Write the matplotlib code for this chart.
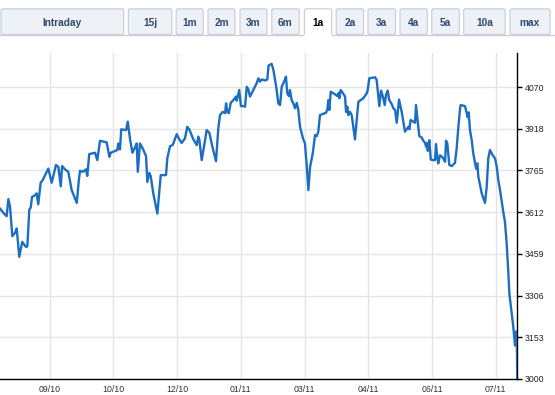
import matplotlib
matplotlib.use("Agg")
import matplotlib.pyplot as plt
from matplotlib.patches import FancyBboxPatch
from matplotlib.lines import Line2D

# index level, one year of closes (day offset from start, value)
DAYS = [
    0, 2.8, 4.7, 5.9, 7.1, 8.7, 10.6, 11.8, 13.6, 15.7,
    18.4, 19.3, 20.7, 21.7, 22.6, 24.7, 25.9, 27.0, 28.7, 30.1,
    34.1, 36.5, 39.5, 41.2, 42.9, 43.8, 45.9, 48.2, 50.6, 54.2,
    55.6, 56.5, 58.4, 60.7, 61.6, 63.0, 67.1, 68.7, 70.6, 75.3,
    77.2, 78.2, 82.8, 83.5, 84.7, 85.6, 89.0, 90.2, 91.8, 93.5,
    95.7, 96.5, 97.3, 98.8, 100.7, 103.1, 104.0, 105.4, 106.4, 108.2,
    111.1, 113.5, 117.2, 118.1, 120.0, 121.9, 124.8, 126.6, 128.3, 130.6,
    132.2, 133.6, 136.5, 138.9, 140.0, 140.7, 142.4, 144.0, 145.9, 147.8,
    150.2, 152.5, 154.1, 155.3, 157.2, 158.9, 159.6, 160.5, 161.5, 162.9,
    164.7, 166.6, 167.1, 168.9, 170.1, 172.3, 173.0, 174.2, 175.3, 176.5,
    178.8, 181.2, 182.4, 183.6, 184.8, 187.1, 188.7, 189.6, 191.8, 193.0,
    194.2, 194.9, 196.5, 197.7, 198.9, 201.2, 201.9, 202.8, 204.0, 204.7,
    205.9, 207.1, 208.3, 209.5, 210.6, 211.8, 214.1, 215.3, 216.5, 217.7,
    218.9, 220.8, 222.4, 223.6, 224.7, 225.9, 230.2, 231.1, 231.8, 232.5,
    233.5, 235.3, 237.2, 238.1, 239.1, 239.5, 240.5, 241.9, 243.6, 244.3,
    245.2, 245.9, 247.1, 248.3, 249.4, 250.6, 251.8, 253.0, 256.5, 258.9,
    259.6, 260.7, 264.8, 265.9, 267.8, 269.0, 270.2, 271.6, 272.5, 273.7,
    274.8, 276.5, 277.7, 278.9, 280.1, 281.7, 283.6, 285.9, 287.1, 288.3,
    289.0, 289.9, 291.8, 293.0, 293.7, 296.0, 297.7, 298.9, 300.1, 300.8,
    301.2, 302.0, 303.1, 304.1, 305.5, 307.1, 307.8, 308.7, 309.4, 310.6,
    312.5, 314.2, 314.9, 315.8, 317.2, 318.9, 321.2, 322.4, 323.6, 324.8,
    325.2, 328.3, 329.5, 330.2, 330.9, 331.8, 333.0, 334.1, 336.1, 337.0,
    337.7, 340.1, 342.4, 343.6, 344.7, 345.9, 347.8, 349.5, 350.7, 351.8,
    353.0, 354.2, 355.3, 356.5, 357.7, 358.9, 359.6, 361.3, 362.4, 363.6,
    364.3, 364.8, 365.2,
]
CLOSE = [
    3625, 3607, 3597, 3660, 3631, 3524, 3536, 3552, 3448, 3503,
    3484, 3487, 3622, 3629, 3668, 3674, 3681, 3641, 3720, 3729,
    3772, 3720, 3785, 3778, 3707, 3781, 3769, 3760, 3693, 3646,
    3727, 3764, 3760, 3769, 3745, 3825, 3830, 3803, 3874, 3868,
    3815, 3830, 3840, 3864, 3842, 3916, 3913, 3944, 3880, 3830,
    3854, 3864, 3760, 3864, 3846, 3818, 3723, 3756, 3744, 3681,
    3607, 3748, 3748, 3809, 3854, 3858, 3898, 3879, 3866, 3883,
    3925, 3916, 3879, 3858, 3889, 3879, 3803, 3852, 3913, 3903,
    3846, 3799, 3919, 3968, 3980, 3975, 4011, 3980, 3975, 4013,
    4023, 4036, 4021, 4060, 4001, 4001, 3999, 4072, 4063, 4036,
    4060, 4085, 4103, 4091, 4099, 4095, 4099, 4150, 4156, 4134,
    4097, 4075, 4011, 4005, 4072, 4099, 4109, 4048, 4038, 4060,
    4023, 4011, 3993, 4013, 3987, 3925, 3879, 3864, 3785, 3693,
    3778, 3828, 3895, 3891, 3907, 3968, 3977, 3989, 4023, 3987,
    4054, 4048, 4042, 4038, 4050, 4030, 4060, 4050, 4036, 3980,
    3999, 3968, 3980, 3968, 3925, 3879, 3950, 4017, 4030, 4048,
    4060, 4103, 4107, 4097, 4001, 4058, 4038, 4005, 4042, 4058,
    4023, 4009, 3993, 3987, 3940, 4025, 3980, 3907, 3916, 3925,
    3916, 3950, 3944, 3940, 4005, 3891, 3886, 3874, 3866, 3852,
    3866, 3837, 3876, 3805, 3803, 3803, 3862, 3813, 3791, 3821,
    3813, 3797, 3874, 3864, 3785, 3781, 3793, 3846, 3925, 3993,
    4005, 4001, 3975, 3960, 3978, 3913, 3876, 3828, 3772, 3791,
    3742, 3681, 3646, 3705, 3809, 3840, 3821, 3809, 3778, 3729,
    3693, 3650, 3613, 3576, 3497, 3387, 3313, 3240, 3190, 3123,
    3172, 3176, 3000,
]

X_TICKS = [35, 80, 125, 170, 215, 260, 305, 350]
X_LABELS = ["09/10", "10/10", "12/10", "01/11", "03/11", "04/11", "06/11", "07/11"]
Y_TICKS = [3000, 3153, 3306, 3459, 3612, 3765, 3918, 4070]

PERIODS = ["Intraday", "15j", "1m", "2m", "3m", "6m", "1a",
           "2a", "3a", "4a", "5a", "10a", "max"]
ACTIVE = "1a"

W, H = 555, 395
fig = plt.figure(figsize=(W / 100, H / 100), dpi=100)
plt.rcParams["font.family"] = ["Liberation Sans", "DejaVu Sans"]

ax = fig.add_axes([0, (H - 379) / H, 517.3 / W, (379 - 52.7) / H])
ax.plot(DAYS, CLOSE, color="#1b6ec2", lw=1.7, solid_joinstyle="round", zorder=3)
ax.set_xlim(0, 365.2)
ax.set_ylim(3000, 4197)

ax.set_xticks(X_TICKS)
ax.set_xticklabels(X_LABELS)
ax.set_yticks(Y_TICKS)
ax.set_yticklabels([str(v) for v in Y_TICKS])
ax.yaxis.tick_right()
ax.grid(True, color="#e4e4e8", lw=1.0, zorder=0)
ax.set_axisbelow(True)
for s in ("top", "left"):
    ax.spines[s].set_visible(False)
ax.spines["right"].set_color("black")
ax.spines["bottom"].set_color("black")
ax.spines["right"].set_linewidth(1.0)
ax.spines["bottom"].set_linewidth(1.0)
ax.tick_params(axis="y", right=True, left=False, length=3.6, width=1.0,
               color="black", labelsize=6.3, labelcolor="#222222", pad=2)
ax.tick_params(axis="x", length=0, labelsize=6.3, labelcolor="#2a3345", pad=4.5)


def fx(px):
    return px / W


def fy(py):
    return 1 - py / H


# period selector buttons across the top
BTN_X = [(0, 124.6), (127.4, 172.7), (175.2, 204.2), (207, 236), (239, 268),
         (270.8, 300.2), (303.4, 332.7), (335.2, 364.6), (367, 396.5),
         (399, 428.3), (430.8, 460.2), (462.7, 506.2), (509, 551)]
top, bot = 8.8, 34.5
fig.add_artist(Line2D([0, 1], [fy(35.2), fy(35.2)], color="#c7d0d9", lw=1.0))
for label, (x0, x1) in zip(PERIODS, BTN_X):
    active = label == ACTIVE
    b = bot + 1.5 if active else bot
    patch = FancyBboxPatch(
        (fx(x0 + 1), fy(b)), fx(x1 - x0 - 2), fy(top) - fy(b),
        boxstyle="round,pad=0,rounding_size=0.004",
        transform=fig.transFigure,
        facecolor="white" if active else "#eef1f5",
        edgecolor="#c9d1da", lw=0.9, zorder=5,
    )
    fig.add_artist(patch)
    if active:
        # open bottom on the selected tab
        fig.add_artist(Line2D([fx(x0 + 1.6), fx(x1 - 1.6)], [fy(b), fy(b)],
                              color="white", lw=1.6, zorder=6))
    fig.text(fx((x0 + x1) / 2), fy(22.5), label, ha="center", va="center",
             fontsize=7.3, fontweight="bold",
             color="black" if active else "#2f4a6d", zorder=7)

fig.savefig("out.png", dpi=100)
